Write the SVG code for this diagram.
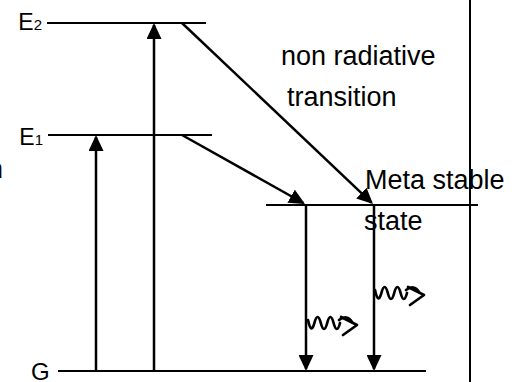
<svg xmlns="http://www.w3.org/2000/svg" width="519" height="382" viewBox="0 0 519 382">
<defs>
<style>
.lvl{stroke:#000;stroke-width:2.2;fill:none}
.arr{stroke:#000;stroke-width:2.5;fill:none;marker-end:url(#ah)}
.lbl{font-family:"Liberation Sans",Arial,"DejaVu Sans",sans-serif;fill:#000}
.big{font-size:27px}
.wave{stroke:#000;stroke-width:2.7;fill:none;stroke-linejoin:round;stroke-linecap:round}
</style>
<marker id="ah" markerUnits="userSpaceOnUse" markerWidth="16" markerHeight="15" viewBox="0 0 16 15" refX="14" refY="7.5" orient="auto">
<path d="M0,0 L16,7.5 L0,15 z" fill="#000"/>
</marker>
<g id="photon-shape">
<path class="wave" d="M308,320 Q311.2,335 314.4,323 T320.8,323 T327.2,323 T333.6,323 T340,323"/>
<path class="wave" d="M341,317 L357,325 L343,335"/>
<path class="wave" d="M339,320 Q347,314 352,322"/>
</g>
</defs>
<rect width="519" height="382" fill="#fff"/>

<g id="level-E2">
<line class="lvl" x1="47" y1="23" x2="206" y2="23"/>
<text class="lbl" x="42" y="30" text-anchor="end"><tspan font-size="23">E</tspan><tspan font-size="15">2</tspan></text>
</g>
<g id="level-E1">
<line class="lvl" x1="48" y1="135" x2="212" y2="135"/>
<text class="lbl" x="43" y="145" text-anchor="end"><tspan font-size="23">E</tspan><tspan font-size="15">1</tspan></text>
</g>
<g id="level-meta">
<line class="lvl" x1="266" y1="205" x2="478" y2="205"/>
<text class="lbl big" x="365" y="189">Meta stable</text>
<text class="lbl big" x="364" y="230">state</text>
</g>
<g id="level-G">
<line class="lvl" x1="58" y1="371" x2="426" y2="371"/>
<text class="lbl" x="31" y="380" font-size="24">G</text>
</g>
<g id="label-nonrad">
<text class="lbl big" x="281" y="65">non radiative</text>
<text class="lbl big" x="287" y="106">transition</text>
</g>
<g id="label-clipped">
<text class="lbl big" x="-12" y="178">n</text>
</g>
<g id="border">
<line x1="470" y1="0" x2="470" y2="382" stroke="#000" stroke-width="2"/>
</g>

<g id="connectors">
<line class="arr" x1="96" y1="371" x2="96" y2="137"/>
<line class="arr" x1="154" y1="371" x2="154" y2="25"/>
<line class="arr" x1="182" y1="135" x2="303.3" y2="203"/>
<line class="arr" x1="182" y1="23" x2="371.5" y2="202.6"/>
<line class="arr" x1="306" y1="205" x2="306" y2="369"/>
<line class="arr" x1="374" y1="205" x2="374" y2="369"/>
<use href="#photon-shape"/>
<use href="#photon-shape" transform="translate(67,-30)"/>
</g>
</svg>
